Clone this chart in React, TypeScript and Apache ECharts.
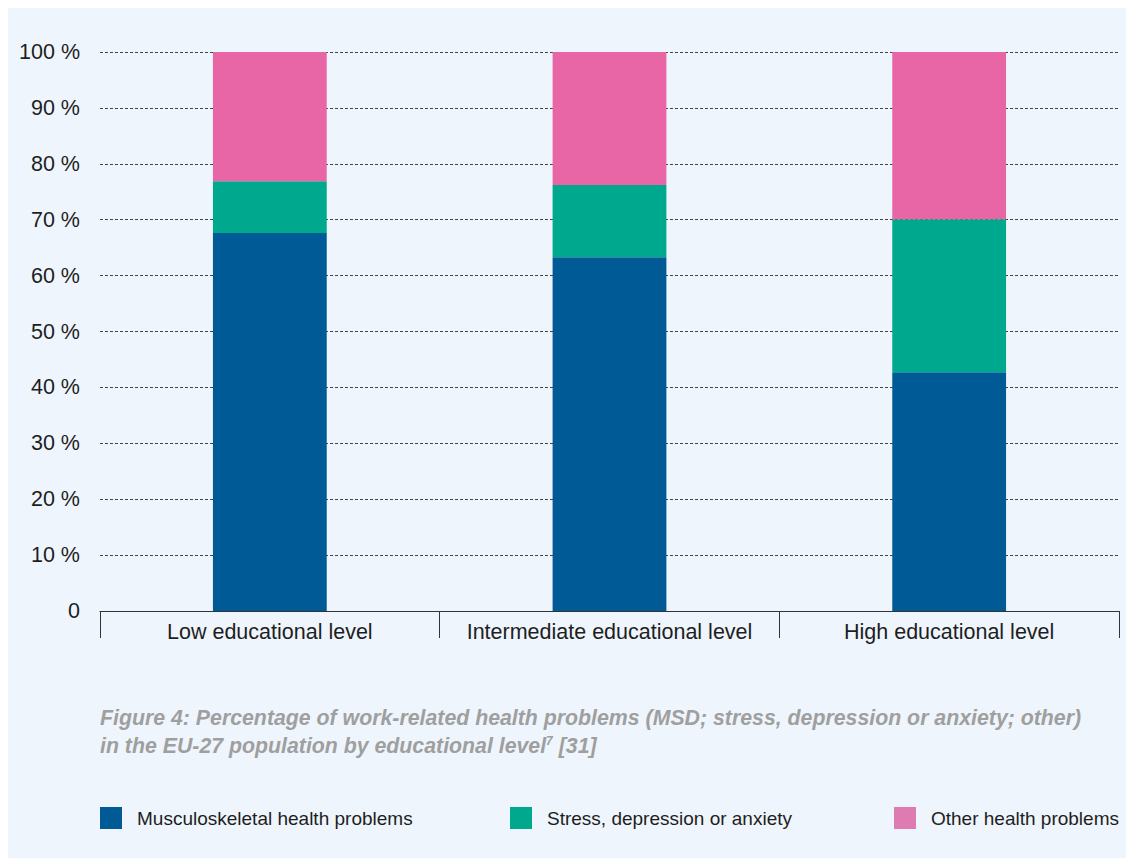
import React, { useEffect, useRef } from "react";
import * as echarts from "echarts";

const categories = ["Low educational level", "Intermediate educational level", "High educational level"];
const msd = [67.6, 63.3, 42.7];
const stress = [9.3, 12.9, 27.4];
const other = [23.1, 23.8, 29.9];
const seriesNames = ["Musculoskeletal health problems", "Stress, depression or anxiety", "Other health problems"];
const barColors = ["#005a96", "#00a88e", "#e966a6"];
const legendColors = ["#005a96", "#00a88e", "#de7bb0"];

const FONT = "'Liberation Sans', Arial, Helvetica, sans-serif";

export default function App() {
  const ref = useRef<HTMLDivElement>(null);
  useEffect(() => {
    if (!ref.current) return;
    const chart = echarts.init(ref.current, undefined, { renderer: "svg" });
    const dataSets = [msd, stress, other];
    const legendLefts = [92, 502, 886];
    chart.setOption({
      animation: false,
      backgroundColor: "#eef5fc",
      textStyle: { fontFamily: FONT },
      grid: { left: 92, right: 15, top: 44, bottom: 247, containLabel: false },
      legend: seriesNames.map((n, i) => ({
        left: legendLefts[i],
        top: 799,
        padding: 0,
        itemWidth: 22,
        itemHeight: 22,
        itemGap: 0,
        icon: "rect",
        data: [{ name: n, itemStyle: { color: legendColors[i] } }],
        textStyle: { fontSize: 19, color: "#1e1e1e", fontFamily: FONT, padding: [0, 0, 0, 10] },
        selectedMode: false,
      })),
      xAxis: {
        type: "category",
        data: categories,
        axisLine: { show: true, lineStyle: { color: "#333", width: 1 } },
        axisTick: { show: true, interval: 0, length: 27, alignWithLabel: false, lineStyle: { color: "#333" } },
        axisLabel: { interval: 0, hideOverlap: false, fontSize: 21.5, color: "#1e1e1e", margin: 10, fontFamily: FONT },
        splitLine: { show: false },
      },
      yAxis: {
        type: "value",
        min: 0,
        max: 100,
        interval: 10,
        axisLine: { show: false },
        axisTick: { show: false },
        axisLabel: {
          fontSize: 21.5,
          color: "#1e1e1e",
          margin: 20,
          fontFamily: FONT,
          formatter: (v: number) => (v !== 0 ? `${v} %` : `${v}`),
        },
        splitLine: { show: true, lineStyle: { color: "#444", type: [3, 2], width: 1 } },
      },
      series: dataSets.map((d, i) => ({
        name: seriesNames[i],
        type: "bar",
        stack: "total",
        barWidth: "33.5%",
        data: d,
        itemStyle: { color: barColors[i] },
      })),
      graphic: [
        {
          type: "text",
          left: 92,
          top: 699,
          style: {
            text: "Figure 4: Percentage of work-related health problems (MSD; stress, depression or anxiety; other)",
            font: `italic bold 21.3px ${FONT}`,
            fill: "#9f9f9f",
          },
        },
        {
          type: "text",
          left: 92,
          top: 727,
          style: {
            text: "{a|in the EU-27 population by educational level}{s|7}{a| [31]}",
            rich: {
              a: { font: `italic bold 21.3px ${FONT}`, fill: "#9f9f9f", color: "#9f9f9f" },
              s: { font: `italic bold 12px ${FONT}`, fill: "#9f9f9f", color: "#9f9f9f", verticalAlign: "top", padding: [0, 0, 10, 0] },
            },
          },
        },
      ],
    });
    return () => chart.dispose();
  }, []);
  return <div ref={ref} style={{ width: 1126, height: 850 }} />;
}
